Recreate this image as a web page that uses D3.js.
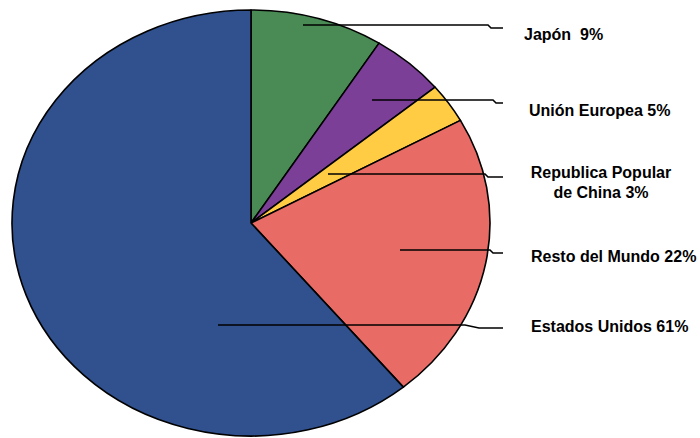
<!DOCTYPE html>
<html>
<head>
<meta charset="utf-8">
<script src="https://cdn.jsdelivr.net/npm/d3@7"></script>
<style>
  html, body { margin: 0; padding: 0; background: #fff; }
  svg { display: block; }
  .lbl { font-family: "Liberation Sans", Arial, sans-serif; font-weight: bold; font-size: 16px; fill: #000; }
</style>
</head>
<body>
<svg id="chart" width="700" height="438"></svg>
<script>
// Share of total by region (clockwise from 12 o'clock)
const regions = ["Japón", "Unión Europea", "Republica Popular de China", "Resto del Mundo", "Estados Unidos"];
const shares = [9, 5, 3, 22, 61];
const colors = ["#4a8a55", "#7c3f98", "#ffcc44", "#e86b66", "#30508e"];
// Label lines as printed
const labelLines = [
  ["Japón  9%"],
  ["Unión Europea 5%"],
  ["Republica Popular", "de China 3%"],
  ["Resto del Mundo 22%"],
  ["Estados Unidos 61%"]
];
// Vertical position of each leader line
const leaderY = [25, 100, 174, 250, 325];
// Where each leader starts inside its slice
const leaderStart = [303, 372, 328, 400, 218];
const labelX = [524, 529, 601, 531, 531];
const labelAnchor = ["start", "start", "middle", "start", "start"];
const labelBaseline = [[40], [116], [178, 198], [262], [332]];

const svg = d3.select("#chart");
const cx = 251, cy = 223, rx = 239, ry = 213;
const R = 100;

const pie = d3.pie().sort(null).value(d => d)(shares);
const arc = d3.arc().innerRadius(0).outerRadius(R);

// Pie drawn on a unit circle, stretched into an ellipse
const g = svg.append("g")
  .attr("transform", `translate(${cx},${cy}) scale(${rx / R},${ry / R})`);

g.selectAll("path.slice")
  .data(pie)
  .join("path")
  .attr("class", "slice")
  .attr("d", arc)
  .attr("fill", (d, i) => colors[i])
  .attr("stroke", "#000")
  .attr("stroke-width", 1.6)
  .attr("stroke-linejoin", "round")
  .attr("vector-effect", "non-scaling-stroke");

// Leader lines: horizontal run, small step down, short tail toward label
const elbowX = [488, 493, 485, 490, 465];
const leader = svg.append("g");
shares.forEach((s, i) => {
  const y0 = leaderY[i];
  const x0 = leaderStart[i];
  const x1 = elbowX[i];
  const stepW = i === 4 ? 14 : 3;
  const pts = [[x0, y0], [x1, y0], [x1 + stepW, y0 + 3], [503, y0 + 3]];
  leader.append("path")
    .attr("d", d3.line()(pts))
    .attr("fill", "none")
    .attr("stroke", "#000")
    .attr("stroke-width", 1.6);
});

// Labels
labelLines.forEach((lines, i) => {
  const t = svg.append("text")
    .attr("class", "lbl")
    .attr("text-anchor", labelAnchor[i])
    .style("white-space", "pre");
  lines.forEach((ln, j) => {
    t.append("tspan")
      .attr("x", labelX[i])
      .attr("y", labelBaseline[i][j])
      .text(ln);
  });
});
</script>
</body>
</html>
